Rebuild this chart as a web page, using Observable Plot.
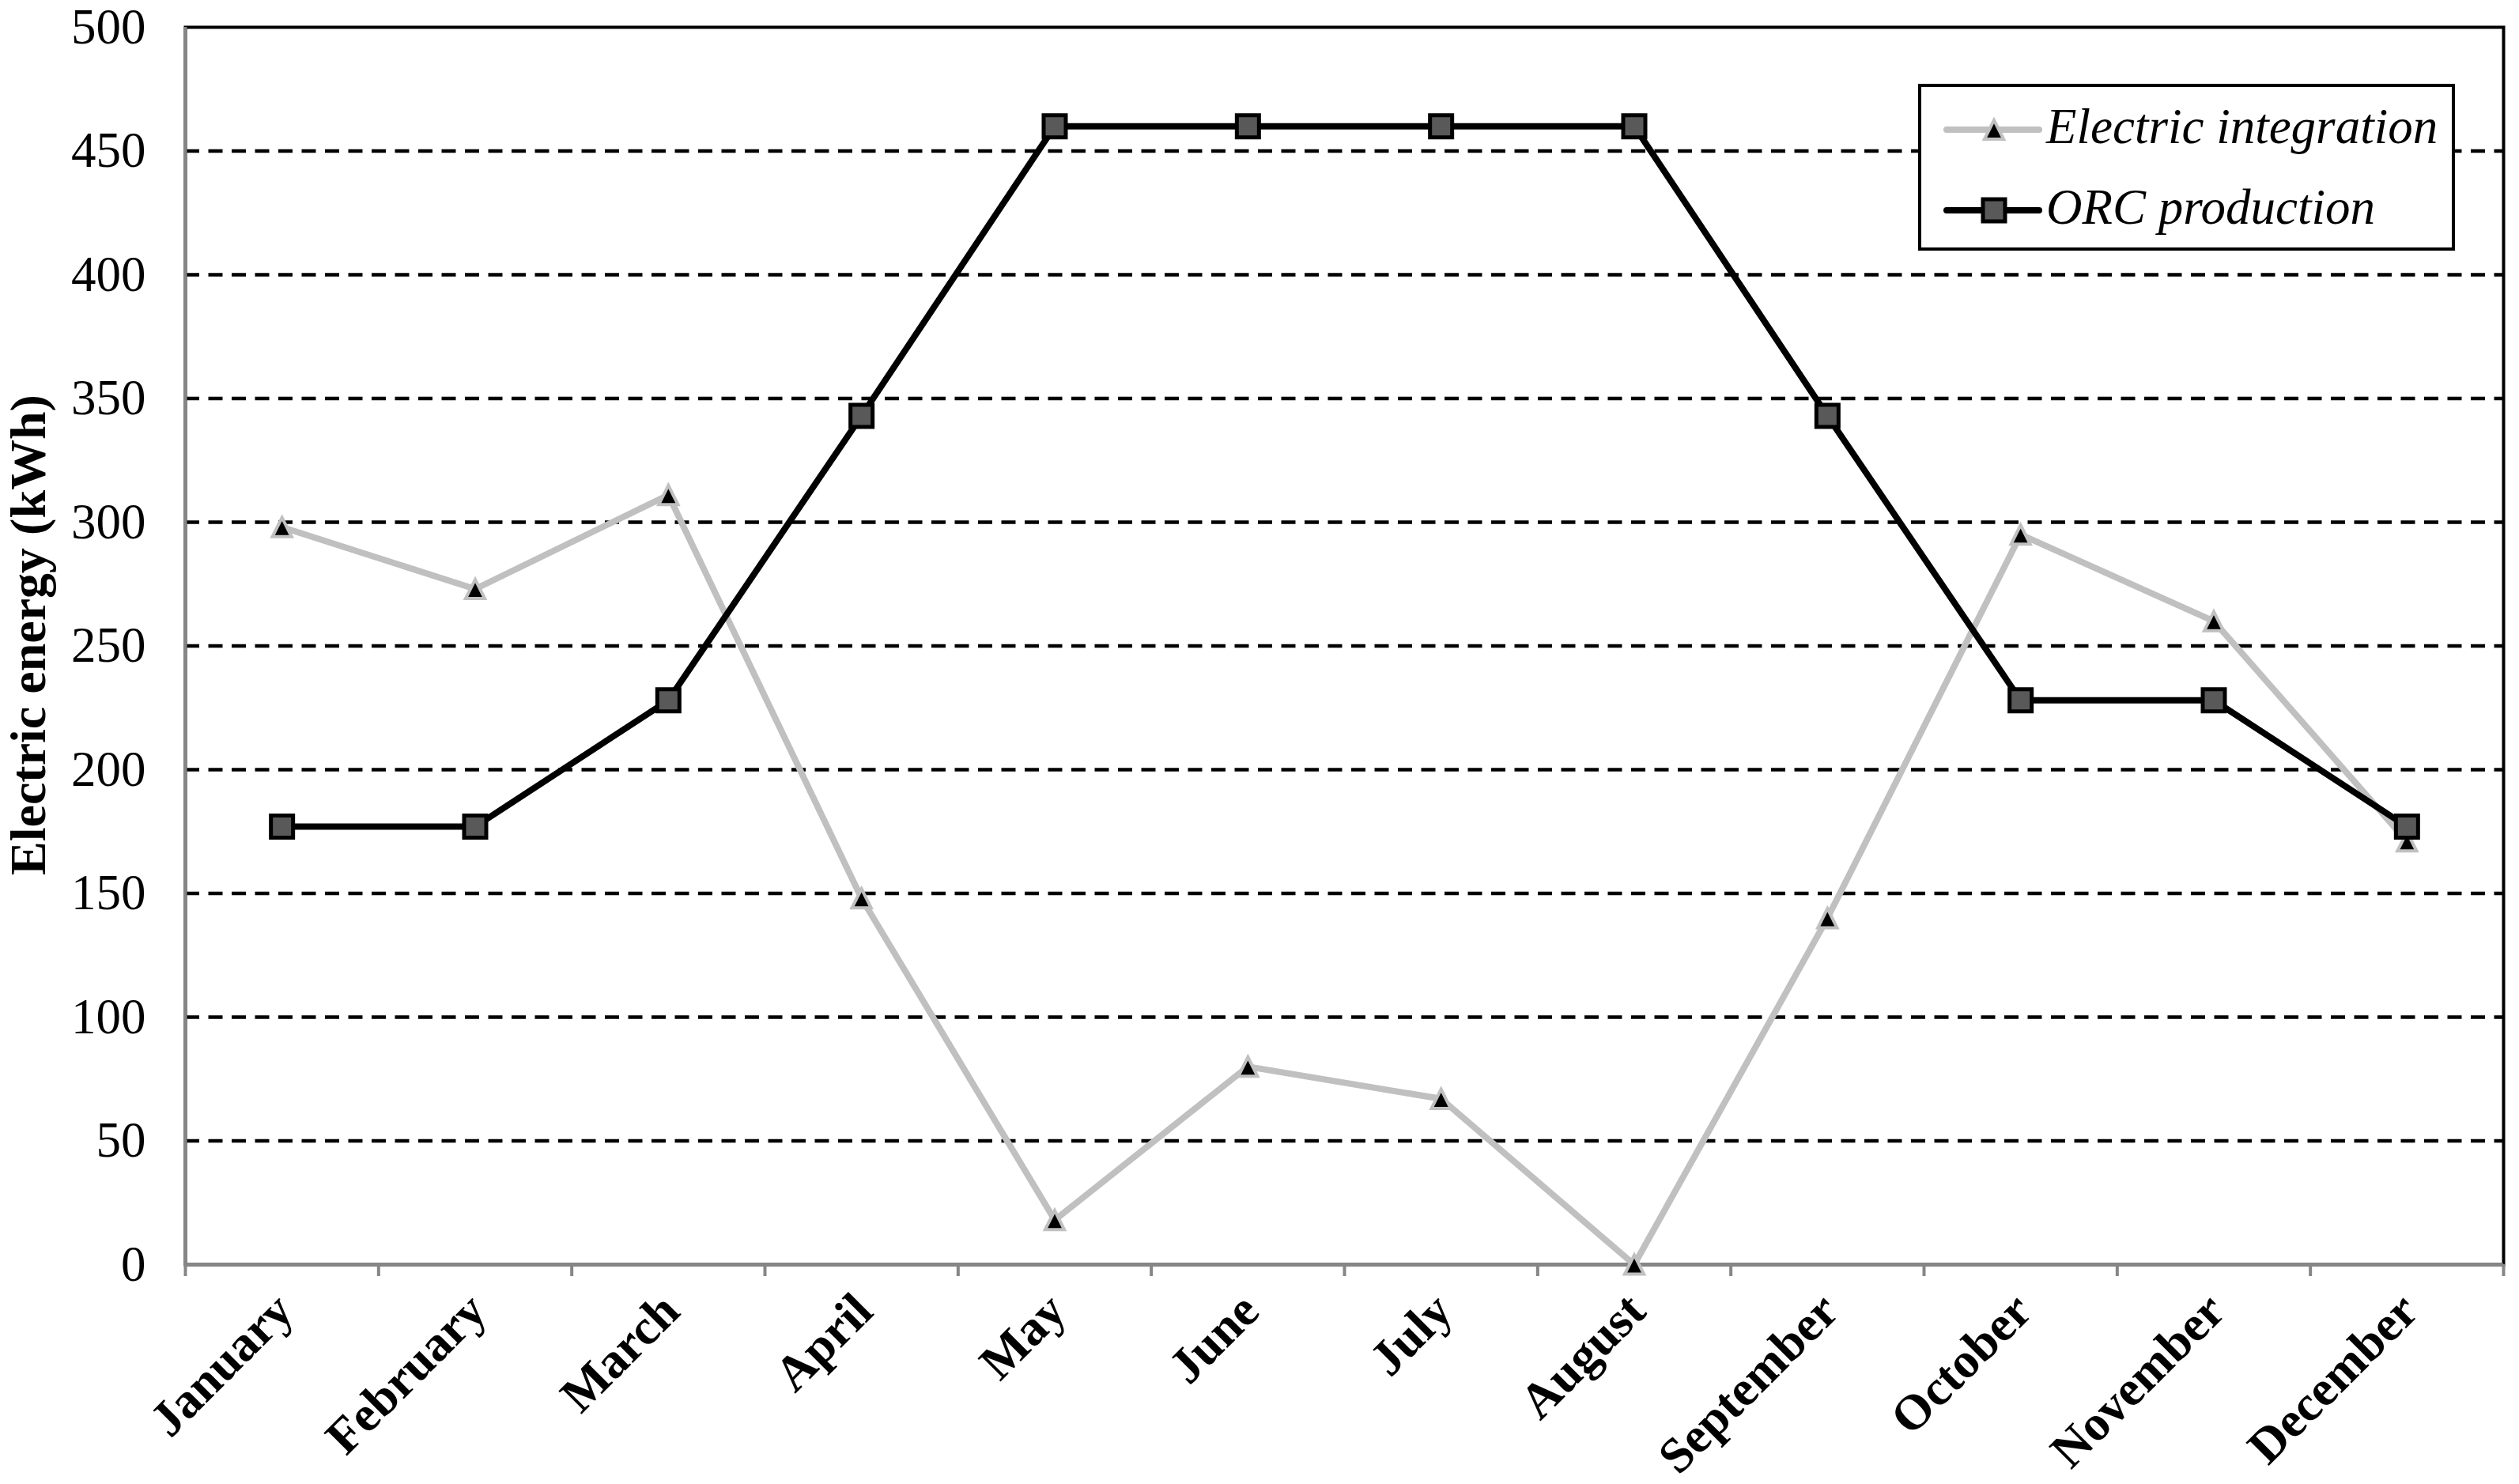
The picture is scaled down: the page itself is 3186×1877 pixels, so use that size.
<!DOCTYPE html>
<html>
<head>
<meta charset="utf-8">
<script src="https://cdn.jsdelivr.net/npm/d3@7"></script>
<script src="https://cdn.jsdelivr.net/npm/@observablehq/plot@0.6"></script>
<style>
  html, body { margin: 0; padding: 0; background: white; }
  #wrap { position: relative; width: 3186px; height: 1877px; font-family: "Liberation Serif", "Times New Roman", serif; }
  #legend { position: absolute; left: 2426px; top: 106px; width: 679px; height: 211px; box-sizing: border-box;
            border: 4px solid black; background: white; }
  .lrow { position: absolute; left: 0; height: 80px; }
  .lrow svg { position: absolute; left: 0; top: 0; }
  .lrow span { position: absolute; left: 158px; top: -4px; font-style: italic; font-size: 63px; line-height: 80px; white-space: nowrap; color: black; }
</style>
</head>
<body>
<div id="wrap"></div>
<script>
const months = ["January", "February", "March", "April", "May", "June", "July", "August", "September", "October", "November", "December"];
const electricIntegration = [298, 273, 311, 148, 18, 80, 67, 0, 140, 295, 260, 171];
const orcProduction = [177, 177, 228, 343, 460, 460, 460, 460, 343, 228, 228, 177];
const yTicks = [0, 50, 100, 150, 200, 250, 300, 350, 400, 450, 500];
const gridTicks = [50, 100, 150, 200, 250, 300, 350, 400, 450];
const seriesNames = ["Electric integration", "ORC production"];
const yLabel = "Electric energy (kWh)";

const grayLine = "#c0c0c0";
const axisGray = "#868686";
const squareFill = "#595959";

// Excel-like triangle marker (box-centred on the point)
const excelTriangle = {
  draw(ctx, size) {
    const s = Math.sqrt(size / Math.PI) * 1.1;
    ctx.moveTo(0, -s);
    ctx.lineTo(s, s);
    ctx.lineTo(-s, s);
    ctx.closePath();
  }
};

const eiData = months.map((m, i) => ({month: m, x: i + 0.5, value: electricIntegration[i]}));
const orcData = months.map((m, i) => ({month: m, x: i + 0.5, value: orcProduction[i]}));

const chart = Plot.plot({
  width: 3186,
  height: 1877,
  marginLeft: 234,
  marginRight: 20,
  marginTop: 34,
  marginBottom: 278,
  style: {fontFamily: '"Liberation Serif", "Times New Roman", serif', fontSize: "63px", color: "black", background: "white"},
  x: {type: "linear", domain: [0, months.length]},
  y: {domain: [0, 500]},
  marks: [
    Plot.ruleY(gridTicks, {stroke: "black", strokeWidth: 4.5, strokeDasharray: "18,11.5"}),
    Plot.frame({stroke: "black", strokeWidth: 4}),
    Plot.ruleX([0], {stroke: axisGray, strokeWidth: 4}),
    Plot.ruleY([0], {stroke: axisGray, strokeWidth: 4}),
    Plot.axisX(d3.range(months.length + 1), {tickSize: 15, stroke: axisGray, strokeWidth: 4, tickFormat: () => "", label: null}),
    Plot.axisX(months.map((m, i) => i + 0.5), {
      tickFormat: d => months[Math.floor(d)], tickSize: 0, tickPadding: 48, tickRotate: -45,
      fontWeight: "bold", fontSize: 63, label: null, dx: 3
    }),
    Plot.axisY(yTicks, {tickSize: 0, tickPadding: 50, fontSize: 63, label: null}),
    Plot.text([yLabel], {frameAnchor: "left", textAnchor: "middle", rotate: -90, dx: -198, dy: -14, fontWeight: "bold", fontSize: 64, fill: "black"}),
    Plot.line(eiData, {x: "x", y: "value", stroke: grayLine, strokeWidth: 8}),
    Plot.dot(eiData, {x: "x", y: "value", symbol: excelTriangle, r: 11, fill: "black", stroke: grayLine, strokeWidth: 4}),
    Plot.line(orcData, {x: "x", y: "value", stroke: "black", strokeWidth: 8}),
    Plot.dot(orcData, {x: "x", y: "value", symbol: "square", r: 15.8, fill: squareFill, stroke: "black", strokeWidth: 5})
  ]
});
const wrap = document.getElementById("wrap");
wrap.appendChild(chart);

// Legend overlay
const legend = document.createElement("div");
legend.id = "legend";
const swatches = [
  {name: seriesNames[0], line: grayLine, type: excelTriangle, size: Math.PI * 11 * 11, fill: "black", stroke: grayLine, sw: 4},
  {name: seriesNames[1], line: "black", type: d3.symbolSquare, size: Math.PI * 15.8 * 15.8, fill: squareFill, stroke: "black", sw: 5}
];
swatches.forEach((s, i) => {
  const row = document.createElement("div");
  row.className = "lrow";
  row.style.top = (i === 0 ? 14 : 116) + "px";
  row.style.width = "100%";
  const svg = d3.create("svg").attr("width", 160).attr("height", 80);
  svg.append("line").attr("x1", 32).attr("x2", 149).attr("y1", 40).attr("y2", 40)
     .attr("stroke", s.line).attr("stroke-width", 8).attr("stroke-linecap", "round");
  svg.append("path").attr("d", d3.symbol(s.type, s.size)()).attr("transform", "translate(92,40)")
     .attr("fill", s.fill).attr("stroke", s.stroke).attr("stroke-width", s.sw);
  row.appendChild(svg.node());
  const span = document.createElement("span");
  span.textContent = s.name;
  row.appendChild(span);
  legend.appendChild(row);
});
wrap.appendChild(legend);
</script>
</body>
</html>
